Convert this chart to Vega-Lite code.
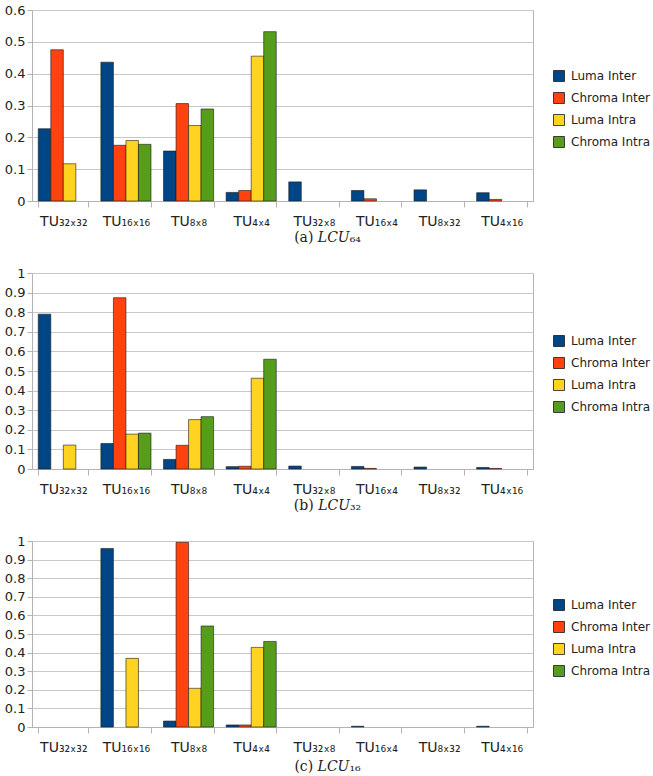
{
  "$schema": "https://vega.github.io/schema/vega-lite/v6.json",
  "background": "white",
  "padding": {"left": 3, "top": 3, "right": 0, "bottom": 3},
  "config": {
    "font": "DejaVu Sans",
    "view": {"stroke": "#b3b3b3", "strokeWidth": 1},
    "axis": {"gridColor": "#c8c8c8", "domainColor": "#b3b3b3", "tickColor": "#b3b3b3", "labelColor": "#222", "labelFontSize": 13, "labelFont": "DejaVu Sans"},
    "axisX": {"labelFontSize": 14},
    "legend": {"labelFont": "DejaVu Sans", "labelFontSize": 12, "labelColor": "#222", "symbolType": "square", "symbolSize": 121, "symbolStrokeColor": "#1a1a1a", "symbolStrokeWidth": 0.8, "rowPadding": 6, "labelOffset": 6, "padding": 0},
    "title": {"font": "DejaVu Serif", "fontSize": 14, "fontWeight": "normal", "color": "#222"}
  },
  "data": {"values": [
    {"panel": "a", "tu": "TU₃₂ₓ₃₂", "series": "Luma Inter", "value": 0.227},
    {"panel": "a", "tu": "TU₃₂ₓ₃₂", "series": "Chroma Inter", "value": 0.475},
    {"panel": "a", "tu": "TU₃₂ₓ₃₂", "series": "Luma Intra", "value": 0.117},
    {"panel": "a", "tu": "TU₁₆ₓ₁₆", "series": "Luma Inter", "value": 0.436},
    {"panel": "a", "tu": "TU₁₆ₓ₁₆", "series": "Chroma Inter", "value": 0.175},
    {"panel": "a", "tu": "TU₁₆ₓ₁₆", "series": "Luma Intra", "value": 0.19},
    {"panel": "a", "tu": "TU₁₆ₓ₁₆", "series": "Chroma Intra", "value": 0.178},
    {"panel": "a", "tu": "TU₈ₓ₈", "series": "Luma Inter", "value": 0.157},
    {"panel": "a", "tu": "TU₈ₓ₈", "series": "Chroma Inter", "value": 0.306},
    {"panel": "a", "tu": "TU₈ₓ₈", "series": "Luma Intra", "value": 0.237},
    {"panel": "a", "tu": "TU₈ₓ₈", "series": "Chroma Intra", "value": 0.289},
    {"panel": "a", "tu": "TU₄ₓ₄", "series": "Luma Inter", "value": 0.027},
    {"panel": "a", "tu": "TU₄ₓ₄", "series": "Chroma Inter", "value": 0.033},
    {"panel": "a", "tu": "TU₄ₓ₄", "series": "Luma Intra", "value": 0.455},
    {"panel": "a", "tu": "TU₄ₓ₄", "series": "Chroma Intra", "value": 0.532},
    {"panel": "a", "tu": "TU₃₂ₓ₈", "series": "Luma Inter", "value": 0.06},
    {"panel": "a", "tu": "TU₁₆ₓ₄", "series": "Luma Inter", "value": 0.033},
    {"panel": "a", "tu": "TU₁₆ₓ₄", "series": "Chroma Inter", "value": 0.007},
    {"panel": "a", "tu": "TU₈ₓ₃₂", "series": "Luma Inter", "value": 0.035},
    {"panel": "a", "tu": "TU₄ₓ₁₆", "series": "Luma Inter", "value": 0.026},
    {"panel": "a", "tu": "TU₄ₓ₁₆", "series": "Chroma Inter", "value": 0.005},
    {"panel": "b", "tu": "TU₃₂ₓ₃₂", "series": "Luma Inter", "value": 0.79},
    {"panel": "b", "tu": "TU₃₂ₓ₃₂", "series": "Luma Intra", "value": 0.122},
    {"panel": "b", "tu": "TU₁₆ₓ₁₆", "series": "Luma Inter", "value": 0.13},
    {"panel": "b", "tu": "TU₁₆ₓ₁₆", "series": "Chroma Inter", "value": 0.874},
    {"panel": "b", "tu": "TU₁₆ₓ₁₆", "series": "Luma Intra", "value": 0.178},
    {"panel": "b", "tu": "TU₁₆ₓ₁₆", "series": "Chroma Intra", "value": 0.183},
    {"panel": "b", "tu": "TU₈ₓ₈", "series": "Luma Inter", "value": 0.049},
    {"panel": "b", "tu": "TU₈ₓ₈", "series": "Chroma Inter", "value": 0.121},
    {"panel": "b", "tu": "TU₈ₓ₈", "series": "Luma Intra", "value": 0.252},
    {"panel": "b", "tu": "TU₈ₓ₈", "series": "Chroma Intra", "value": 0.267},
    {"panel": "b", "tu": "TU₄ₓ₄", "series": "Luma Inter", "value": 0.012},
    {"panel": "b", "tu": "TU₄ₓ₄", "series": "Chroma Inter", "value": 0.014},
    {"panel": "b", "tu": "TU₄ₓ₄", "series": "Luma Intra", "value": 0.463},
    {"panel": "b", "tu": "TU₄ₓ₄", "series": "Chroma Intra", "value": 0.56},
    {"panel": "b", "tu": "TU₃₂ₓ₈", "series": "Luma Inter", "value": 0.015},
    {"panel": "b", "tu": "TU₁₆ₓ₄", "series": "Luma Inter", "value": 0.013},
    {"panel": "b", "tu": "TU₁₆ₓ₄", "series": "Chroma Inter", "value": 0.003},
    {"panel": "b", "tu": "TU₈ₓ₃₂", "series": "Luma Inter", "value": 0.01},
    {"panel": "b", "tu": "TU₄ₓ₁₆", "series": "Luma Inter", "value": 0.008},
    {"panel": "b", "tu": "TU₄ₓ₁₆", "series": "Chroma Inter", "value": 0.003},
    {"panel": "c", "tu": "TU₁₆ₓ₁₆", "series": "Luma Inter", "value": 0.96},
    {"panel": "c", "tu": "TU₁₆ₓ₁₆", "series": "Luma Intra", "value": 0.369},
    {"panel": "c", "tu": "TU₈ₓ₈", "series": "Luma Inter", "value": 0.032},
    {"panel": "c", "tu": "TU₈ₓ₈", "series": "Chroma Inter", "value": 0.993},
    {"panel": "c", "tu": "TU₈ₓ₈", "series": "Luma Intra", "value": 0.208},
    {"panel": "c", "tu": "TU₈ₓ₈", "series": "Chroma Intra", "value": 0.543},
    {"panel": "c", "tu": "TU₄ₓ₄", "series": "Luma Inter", "value": 0.011},
    {"panel": "c", "tu": "TU₄ₓ₄", "series": "Chroma Inter", "value": 0.011},
    {"panel": "c", "tu": "TU₄ₓ₄", "series": "Luma Intra", "value": 0.428},
    {"panel": "c", "tu": "TU₄ₓ₄", "series": "Chroma Intra", "value": 0.46},
    {"panel": "c", "tu": "TU₁₆ₓ₄", "series": "Luma Inter", "value": 0.004},
    {"panel": "c", "tu": "TU₄ₓ₁₆", "series": "Luma Inter", "value": 0.004}
  ]},
  "resolve": {"scale": {"y": "independent"}, "legend": {"color": "independent"}},
  "spacing": 20,
  "vconcat": [
    {
      "width": 501, "height": 191,
      "title": {"text": "(a) 𝐿𝐶𝑈₆₄", "orient": "bottom", "dx": 45, "offset": 3},
      "transform": [{"filter": "datum.panel == 'a'"}],
      "mark": {"type": "bar", "stroke": "#1a1a1a", "strokeWidth": 0.6},
      "encoding": {
        "x": {"field": "tu", "type": "nominal", "scale": {"domain": ["TU₃₂ₓ₃₂", "TU₁₆ₓ₁₆", "TU₈ₓ₈", "TU₄ₓ₄", "TU₃₂ₓ₈", "TU₁₆ₓ₄", "TU₈ₓ₃₂", "TU₄ₓ₁₆"], "paddingInner": 0.2, "paddingOuter": 0.1}, "axis": {"title": null, "labelAngle": 0, "tickBand": "extent", "tickSize": 6, "labelPadding": 7}},
        "xOffset": {"field": "series", "type": "nominal", "scale": {"domain": ["Luma Inter", "Chroma Inter", "Luma Intra", "Chroma Intra"], "paddingInner": 0, "paddingOuter": 0}},
        "y": {"field": "value", "type": "quantitative", "scale": {"domain": [0, 0.6]}, "axis": {"values": [0, 0.1, 0.2, 0.3, 0.4, 0.5, 0.6], "format": "~g", "title": null, "tickSize": 5}},
        "color": {"field": "series", "type": "nominal", "scale": {"domain": ["Luma Inter", "Chroma Inter", "Luma Intra", "Chroma Intra"], "range": ["#004586", "#ff420e", "#ffd320", "#579d1c"]}, "legend": {"title": null, "orient": "none", "legendX": 521, "legendY": 60}}
      }
    },
    {
      "width": 501, "height": 196,
      "title": {"text": "(b) 𝐿𝐶𝑈₃₂", "orient": "bottom", "dx": 45, "offset": 3},
      "transform": [{"filter": "datum.panel == 'b'"}],
      "mark": {"type": "bar", "stroke": "#1a1a1a", "strokeWidth": 0.6},
      "encoding": {
        "x": {"field": "tu", "type": "nominal", "scale": {"domain": ["TU₃₂ₓ₃₂", "TU₁₆ₓ₁₆", "TU₈ₓ₈", "TU₄ₓ₄", "TU₃₂ₓ₈", "TU₁₆ₓ₄", "TU₈ₓ₃₂", "TU₄ₓ₁₆"], "paddingInner": 0.2, "paddingOuter": 0.1}, "axis": {"title": null, "labelAngle": 0, "tickBand": "extent", "tickSize": 6, "labelPadding": 7}},
        "xOffset": {"field": "series", "type": "nominal", "scale": {"domain": ["Luma Inter", "Chroma Inter", "Luma Intra", "Chroma Intra"], "paddingInner": 0, "paddingOuter": 0}},
        "y": {"field": "value", "type": "quantitative", "scale": {"domain": [0, 1]}, "axis": {"values": [0, 0.1, 0.2, 0.3, 0.4, 0.5, 0.6, 0.7, 0.8, 0.9, 1], "format": "~g", "title": null, "tickSize": 5}},
        "color": {"field": "series", "type": "nominal", "scale": {"domain": ["Luma Inter", "Chroma Inter", "Luma Intra", "Chroma Intra"], "range": ["#004586", "#ff420e", "#ffd320", "#579d1c"]}, "legend": {"title": null, "orient": "none", "legendX": 521, "legendY": 62}}
      }
    },
    {
      "width": 501, "height": 186,
      "title": {"text": "(c) 𝐿𝐶𝑈₁₆", "orient": "bottom", "dx": 45, "offset": 6},
      "transform": [{"filter": "datum.panel == 'c'"}],
      "mark": {"type": "bar", "stroke": "#1a1a1a", "strokeWidth": 0.6},
      "encoding": {
        "x": {"field": "tu", "type": "nominal", "scale": {"domain": ["TU₃₂ₓ₃₂", "TU₁₆ₓ₁₆", "TU₈ₓ₈", "TU₄ₓ₄", "TU₃₂ₓ₈", "TU₁₆ₓ₄", "TU₈ₓ₃₂", "TU₄ₓ₁₆"], "paddingInner": 0.2, "paddingOuter": 0.1}, "axis": {"title": null, "labelAngle": 0, "tickBand": "extent", "tickSize": 6, "labelPadding": 7}},
        "xOffset": {"field": "series", "type": "nominal", "scale": {"domain": ["Luma Inter", "Chroma Inter", "Luma Intra", "Chroma Intra"], "paddingInner": 0, "paddingOuter": 0}},
        "y": {"field": "value", "type": "quantitative", "scale": {"domain": [0, 1]}, "axis": {"values": [0, 0.1, 0.2, 0.3, 0.4, 0.5, 0.6, 0.7, 0.8, 0.9, 1], "format": "~g", "title": null, "tickSize": 5}},
        "color": {"field": "series", "type": "nominal", "scale": {"domain": ["Luma Inter", "Chroma Inter", "Luma Intra", "Chroma Intra"], "range": ["#004586", "#ff420e", "#ffd320", "#579d1c"]}, "legend": {"title": null, "orient": "none", "legendX": 521, "legendY": 58}}
      }
    }
  ]
}
